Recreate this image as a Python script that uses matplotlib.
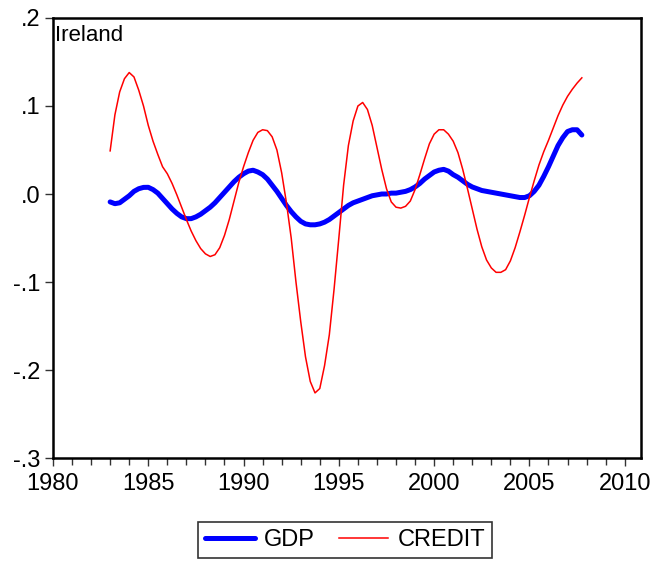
import numpy as np
import matplotlib
matplotlib.use('Agg')
import matplotlib.pyplot as plt
from matplotlib.ticker import MultipleLocator, FixedLocator

plt.rcParams['font.family'] = ['Liberation Sans', 'DejaVu Sans']

# quarterly cycles, 1983Q1 .. 2007Q4
start_year = 1983
gdp = [
    -0.009, -0.011, -0.010, -0.006,   # 1983
    -0.002, 0.003, 0.006, 0.0075,     # 1984
    0.0076, 0.005, 0.001, -0.005,     # 1985
    -0.011, -0.017, -0.022, -0.026,   # 1986
    -0.028, -0.028, -0.026, -0.023,   # 1987
    -0.019, -0.015, -0.010, -0.004,   # 1988
    0.002, 0.008, 0.014, 0.019,       # 1989
    0.023, 0.026, 0.027, 0.025,       # 1990
    0.022, 0.017, 0.010, 0.003,       # 1991
    -0.005, -0.013, -0.020, -0.026,   # 1992
    -0.031, -0.034, -0.035, -0.035,   # 1993
    -0.034, -0.032, -0.029, -0.025,   # 1994
    -0.021, -0.017, -0.013, -0.010,   # 1995
    -0.008, -0.006, -0.004, -0.002,   # 1996
    -0.001, 0.000, 0.000, 0.001,      # 1997
    0.001, 0.002, 0.003, 0.005,       # 1998
    0.008, 0.012, 0.017, 0.021,       # 1999
    0.025, 0.027, 0.028, 0.026,       # 2000
    0.022, 0.019, 0.015, 0.011,       # 2001
    0.008, 0.006, 0.004, 0.003,       # 2002
    0.002, 0.001, 0.000, -0.001,      # 2003
    -0.002, -0.003, -0.004, -0.004,   # 2004
    -0.002, 0.003, 0.010, 0.020,      # 2005
    0.031, 0.043, 0.055, 0.064,       # 2006
    0.071, 0.073, 0.073, 0.067,       # 2007
]
credit = [
    0.049, 0.090, 0.116, 0.131,       # 1983
    0.138, 0.133, 0.118, 0.100,       # 1984
    0.078, 0.060, 0.045, 0.031,       # 1985
    0.023, 0.012, -0.001, -0.015,     # 1986
    -0.029, -0.042, -0.053, -0.062,   # 1987
    -0.068, -0.071, -0.069, -0.061,   # 1988
    -0.047, -0.029, -0.008, 0.013,    # 1989
    0.031, 0.047, 0.061, 0.070,       # 1990
    0.073, 0.072, 0.065, 0.050,       # 1991
    0.024, -0.010, -0.050, -0.100,    # 1992
    -0.145, -0.185, -0.213, -0.226,   # 1993
    -0.221, -0.195, -0.160, -0.108,   # 1994
    -0.050, 0.010, 0.055, 0.083,      # 1995
    0.100, 0.104, 0.096, 0.078,       # 1996
    0.053, 0.028, 0.006, -0.009,      # 1997
    -0.015, -0.016, -0.014, -0.008,   # 1998
    0.005, 0.022, 0.040, 0.057,       # 1999
    0.068, 0.073, 0.073, 0.068,       # 2000
    0.060, 0.047, 0.028, 0.006,       # 2001
    -0.017, -0.040, -0.060, -0.075,   # 2002
    -0.084, -0.089, -0.089, -0.086,   # 2003
    -0.076, -0.061, -0.043, -0.024,   # 2004
    -0.004, 0.015, 0.033, 0.048,      # 2005
    0.061, 0.075, 0.089, 0.101,       # 2006
    0.111, 0.119, 0.126, 0.132,       # 2007
]
yticks = [-0.3, -0.2, -0.1, 0.0, 0.1, 0.2]
ytick_labels = ['-.3', '-.2', '-.1', '.0', '.1', '.2']

t = start_year + np.arange(len(gdp)) / 4.0

fig = plt.figure(figsize=(6.54, 5.62), dpi=100)
ax = fig.add_axes([0.081, 0.185, 0.899, 0.783])

ax.plot(t, gdp, color='#0000ff', lw=3.6, label='GDP', solid_capstyle='round')
ax.plot(t, credit, color='#ff0000', lw=1.1, label='CREDIT')

ax.set_xlim(1980, 2010.85)
ax.set_ylim(-0.3, 0.2)
ax.xaxis.set_major_locator(MultipleLocator(5))
ax.xaxis.set_minor_locator(MultipleLocator(1))
ax.yaxis.set_major_locator(FixedLocator(yticks))
ax.set_yticklabels(ytick_labels)

for s in ax.spines.values():
    s.set_linewidth(1.8)
    s.set_color('black')
ax.tick_params(axis='both', which='major', direction='out', length=6, width=1,
               labelsize=17, color='#333333')
ax.tick_params(axis='x', which='minor', direction='out', length=5, width=1, color='#333333')
ax.tick_params(axis='x', pad=5)
ax.tick_params(axis='y', pad=3)

ax.text(0.003, 0.985, 'Ireland', transform=ax.transAxes, ha='left', va='top', fontsize=16)

leg = fig.legend(loc='lower center', bbox_to_anchor=(0.528, -0.014), ncol=2,
                 fontsize=17, frameon=True, fancybox=False, edgecolor='black',
                 handlelength=2.1, handletextpad=0.4, columnspacing=1.0,
                 borderpad=0.3, borderaxespad=0.5)
leg.get_frame().set_linewidth(1.2)

fig.savefig('out.png', dpi=100)
